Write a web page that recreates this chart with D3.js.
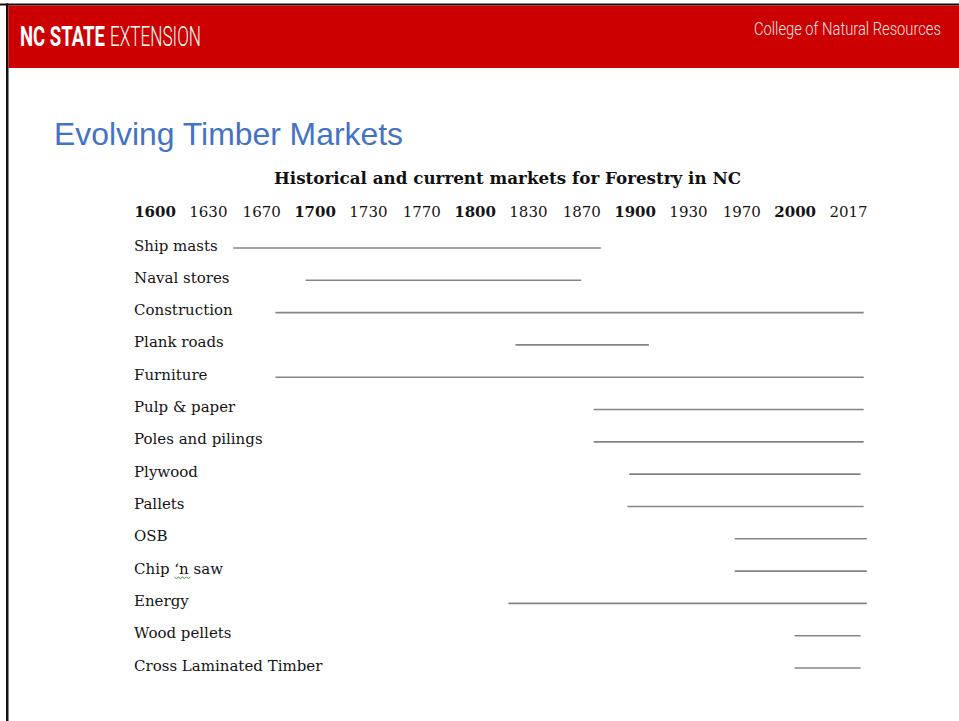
<!DOCTYPE html>
<html>
<head>
<meta charset="utf-8">
<script src="https://cdn.jsdelivr.net/npm/d3@7/dist/d3.min.js"></script>
<style>
  html, body { margin: 0; padding: 0; background: #fff; }
  svg { display: block; }
  .row-label { font-family: "DejaVu Serif", serif; font-size: 15px; fill: #141414; }
  .years text { font-family: "DejaVu Serif", serif; font-size: 15px; fill: #141414; }
  .span { stroke: #858585; stroke-width: 1.6; }
</style>
</head>
<body>
<div class="container"></div>
<script>
"use strict";

var width = 959;
var height = 721;

// Column headings across the top of the table
var yearLabels = ["1600", "1630", "1670", "1700", "1730", "1770", "1800",
    "1830", "1870", "1900", "1930", "1970", "2000", "2017"];
var boldYears = ["1600", "1700", "1800", "1900", "2000"];

// Markets and the period each one covers
var markets = ["Ship masts", "Naval stores", "Construction", "Plank roads",
    "Furniture", "Pulp & paper", "Poles and pilings", "Plywood", "Pallets",
    "OSB", "Chip \u2018n saw", "Energy", "Wood pellets", "Cross Laminated Timber"];
var startYears = [1649, 1695, 1678, 1823, 1678, 1877, 1877, 1897, 1896, 1965, 1965, 1819, 2000, 2000];
var endYears   = [1881, 1870, 2022, 1908, 2022, 2022, 2022, 2021, 2022, 2023, 2023, 2023, 2021, 2021];

var svg = d3.select(".container").append("svg")
    .attr("width", width)
    .attr("height", height);

// Slide frame: thin black edge, red banner
svg.append("rect").attr("x", 0).attr("y", 3.5).attr("width", width).attr("height", 2).attr("fill", "#111");
svg.append("rect").attr("x", 6).attr("y", 3.5).attr("width", 2.5).attr("height", height).attr("fill", "#111");
svg.append("rect").attr("x", 8.5).attr("y", 5.5).attr("width", width - 8.5).attr("height", 62.5).attr("fill", "#cc0000");

// Condensed header type: squeeze the text horizontally to the measured width
function condensed(x, y, txt, size, weight, fill, w) {
    var g = svg.append("g");
    var t = g.append("text")
        .attr("fill", fill)
        .style("font-family", "Roboto, 'Liberation Sans', sans-serif")
        .style("font-size", size + "px")
        .style("font-weight", weight)
        .text(txt);
    var natural = t.node().getComputedTextLength();
    g.attr("transform", "translate(" + x + "," + y + ") scale(" + (w / natural) + ",1)");
}

condensed(20, 46, "NC STATE", 27, "bold", "#fff", 85);
condensed(110, 46, "EXTENSION", 27, 300, "#fff", 91);
condensed(754, 34.5, "College of Natural Resources", 19, 300, "#f3e6e6", 187);

// Slide title
svg.append("text")
    .attr("x", 54)
    .attr("y", 144.5)
    .attr("fill", "#4472c4")
    .attr("textLength", 349)
    .attr("lengthAdjust", "spacingAndGlyphs")
    .style("font-family", "'Liberation Sans', Arial, sans-serif")
    .style("font-size", "30.5px")
    .text("Evolving Timber Markets");

// Chart title
svg.append("text")
    .attr("x", 274)
    .attr("y", 184)
    .attr("fill", "#111")
    .attr("textLength", 467)
    .attr("lengthAdjust", "spacingAndGlyphs")
    .style("font-family", "'DejaVu Serif', serif")
    .style("font-size", "17px")
    .style("font-weight", "bold")
    .text("Historical and current markets for Forestry in NC");

// Year headings are evenly spaced even though the years are not,
// so the line scale is piecewise between the heading positions
var xPoint = d3.scalePoint()
    .domain(yearLabels)
    .range([154.5, 848]);

var x = d3.scaleLinear()
    .domain(yearLabels.map(Number))
    .range(yearLabels.map(function(d) { return xPoint(d); }));

var y = d3.scalePoint()
    .domain(markets)
    .range([248, 668]);

var xAxis = svg.append("g")
    .attr("class", "years")
    .attr("transform", "translate(0,216.5)")
    .call(d3.axisTop(xPoint).tickSize(0).tickPadding(0));
xAxis.select(".domain").remove();
xAxis.selectAll("text")
    .attr("fill", "#141414")
    .style("font-weight", function(d) { return boldYears.indexOf(d) >= 0 ? "bold" : "normal"; });

var rows = svg.selectAll(".row")
    .data(markets)
    .enter().append("g")
    .attr("class", "row");

rows.append("text")
    .attr("class", "row-label")
    .attr("x", 134)
    .attr("y", function(d) { return y(d) + 2.5; })
    .text(function(d) { return d; });

rows.append("line")
    .attr("class", "span")
    .attr("x1", function(d, i) { return x(startYears[i]); })
    .attr("x2", function(d, i) { return x(endYears[i]); })
    .attr("y1", function(d) { return y(d); })
    .attr("y2", function(d) { return y(d); });

// Spell-check squiggle under "‘n" in Chip ‘n saw
var chip = rows.filter(function(d) { return d.indexOf("Chip") === 0; }).select("text").node();
var sx0 = 134 + chip.getSubStringLength(0, 5);
var sx1 = 134 + chip.getSubStringLength(0, 7);
var sy = y(markets[10]) + 6;
var squiggle = d3.path();
squiggle.moveTo(sx0, sy);
for (var sx = sx0, k = 0; sx < sx1; sx += 2, k++) {
    squiggle.lineTo(sx + 2, sy + (k % 2 === 0 ? 1.5 : 0));
}
svg.append("path")
    .attr("d", squiggle.toString())
    .attr("fill", "none")
    .attr("stroke", "#3a9a3a")
    .attr("stroke-width", 1);
</script>
</body>
</html>
